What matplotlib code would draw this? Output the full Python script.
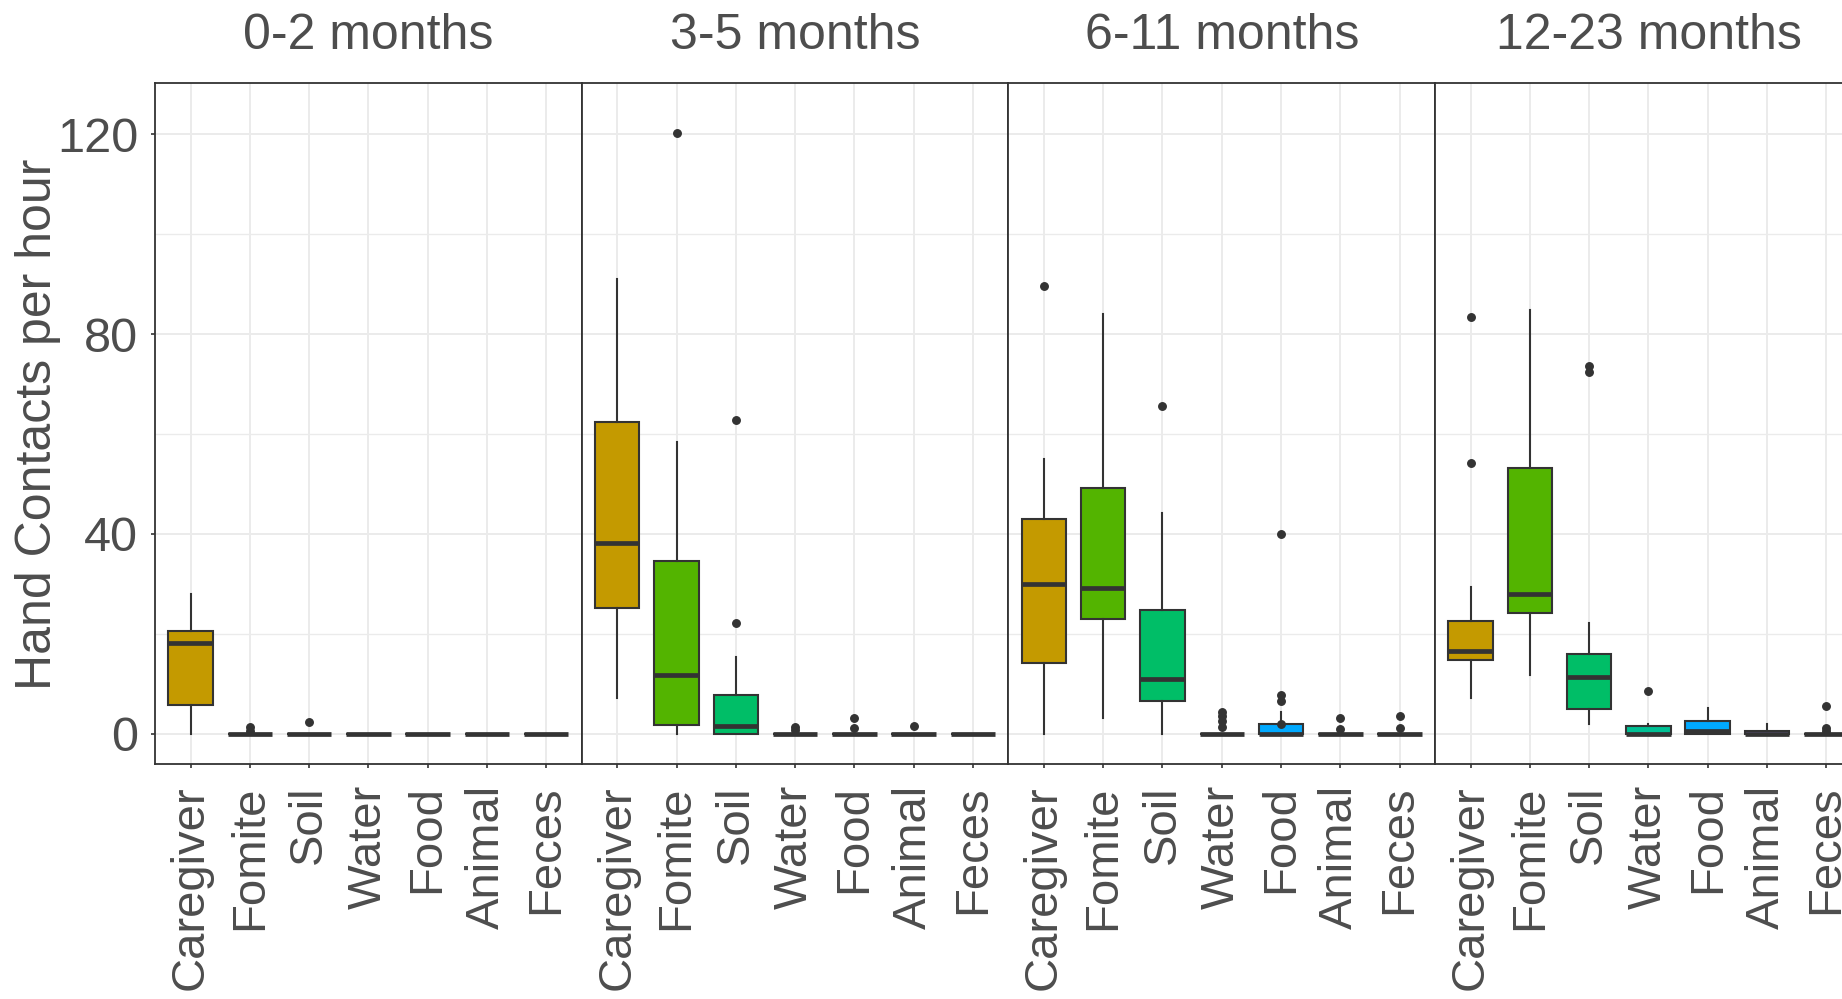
import numpy as np
import matplotlib.pyplot as plt

plt.rcParams['font.family'] = ['Liberation Sans', 'DejaVu Sans']

# Contact sources and age groups
categories = ["Caregiver", "Fomite", "Soil", "Water", "Food", "Animal", "Feces"]
age_groups = ["0-2 months", "3-5 months", "6-11 months", "12-23 months"]
fill_colors = ["#C49A00", "#53B400", "#00BE67", "#00C094", "#00A9FF", "#A58AFF", "#FB61D7"]

# Box summaries per age group, one value per source (hand contacts per hour)
whisker_low = [
    [0, 0, 0, 0, 0, 0, 0],
    [7.2, 0, 0, 0, 0, 0, 0],
    [0, 3.1, 0, 0, 0, 0, 0],
    [7.1, 11.7, 1.9, 0, 0, 0, 0],
]
lower_quartile = [
    [5.8, 0, 0, 0, 0, 0, 0],
    [25.2, 1.8, 0, 0, 0, 0, 0],
    [14.2, 22.9, 6.6, 0, 0, 0, 0],
    [14.7, 24.1, 4.9, 0, 0, 0, 0],
]
medians = [
    [18.1, 0, 0, 0, 0, 0, 0],
    [38.1, 11.7, 1.6, 0, 0, 0, 0],
    [30.0, 29.2, 11.0, 0, 0, 0, 0],
    [16.6, 27.9, 11.4, 0, 0.5, 0, 0],
]
upper_quartile = [
    [20.5, 0, 0, 0, 0, 0, 0],
    [62.5, 34.5, 7.7, 0, 0, 0, 0],
    [42.9, 49.3, 24.8, 0, 2.0, 0, 0],
    [22.6, 53.3, 15.9, 1.6, 2.5, 0.5, 0],
]
whisker_high = [
    [27.9, 0, 0, 0, 0, 0, 0],
    [91.1, 58.4, 15.3, 0, 0, 0, 0],
    [55.1, 84.1, 44.1, 0, 4.3, 0, 0],
    [29.4, 84.8, 22.2, 2.0, 5.2, 2.0, 0],
]
outliers = [
    [[], [0.6, 1.3], [2.3], [], [], [], []],
    [[], [120.3], [22.2, 62.9], [0.7, 1.4], [1.2, 3.1], [1.6], []],
    [[89.6], [], [65.7], [1.4, 2.5, 3.5, 4.3], [2.0, 6.5, 7.7, 40.0], [1.0, 3.2], [1.1, 3.5]],
    [[54.2, 83.5], [], [72.5, 73.7], [8.5], [], [], [0.6, 1.1, 5.5]],
]

text_col = "#4D4D4D"
line_col = "#333333"

W, H = 1842, 999
fig = plt.figure(figsize=(W / 100, H / 100), dpi=100)

left0, panel_w = 155, 426.7
top, bottom = 83.3, 764.3

for i, group in enumerate(age_groups):
    ax = fig.add_axes([(left0 + i * panel_w) / W, 1 - bottom / H,
                       panel_w / W, (bottom - top) / H])

    stats = []
    for j, cat in enumerate(categories):
        stats.append(dict(label=cat,
                          whislo=whisker_low[i][j], q1=lower_quartile[i][j],
                          med=medians[i][j], q3=upper_quartile[i][j],
                          whishi=whisker_high[i][j],
                          fliers=np.array(outliers[i][j])))

    bp = ax.bxp(stats, positions=np.arange(1, 8), widths=0.75,
                patch_artist=True, showcaps=False,
                boxprops=dict(edgecolor=line_col, linewidth=1.5),
                medianprops=dict(color=line_col, linewidth=3.4),
                whiskerprops=dict(color=line_col, linewidth=1.5),
                flierprops=dict(marker='o', markerfacecolor=line_col,
                                markeredgecolor=line_col, markersize=5.4))
    for patch, col in zip(bp['boxes'], fill_colors):
        patch.set_facecolor(col)

    ax.set_xlim(0.4, 7.6)
    ax.set_ylim(-6.1, 130.2)
    ax.set_yticks([0, 40, 80, 120])
    ax.set_yticks([20, 60, 100], minor=True)
    ax.set_xticks(np.arange(1, 8))
    ax.set_xticklabels(categories, rotation=90, fontsize=34, color=text_col)
    ax.grid(True, which='major', color='#EBEBEB', linewidth=1.4)
    ax.grid(True, which='minor', axis='y', color='#EBEBEB', linewidth=1.0)
    ax.set_axisbelow(True)
    for s in ax.spines.values():
        s.set_color(line_col)
        s.set_linewidth(1.3)
    ax.tick_params(axis='both', which='major', length=3, width=1.2,
                   color=line_col, labelcolor=text_col, labelsize=34)
    ax.tick_params(axis='x', pad=12)
    ax.tick_params(axis='y', which='minor', length=0)
    ax.tick_params(axis='y', pad=9)
    if i > 0:
        ax.tick_params(axis='y', left=False, labelleft=False)
    else:
        ax.tick_params(axis='y', labelsize=35)

    fig.text((left0 + (i + 0.5) * panel_w) / W, 1 - 49 / H, group,
             ha='center', va='baseline', fontsize=36, color=text_col)

fig.text(37.6 / W, 1 - 424 / H, "Hand Contacts per hour", rotation=90,
         ha='center', va='center', fontsize=36, color=text_col)

fig.savefig("out.png", dpi=100)
